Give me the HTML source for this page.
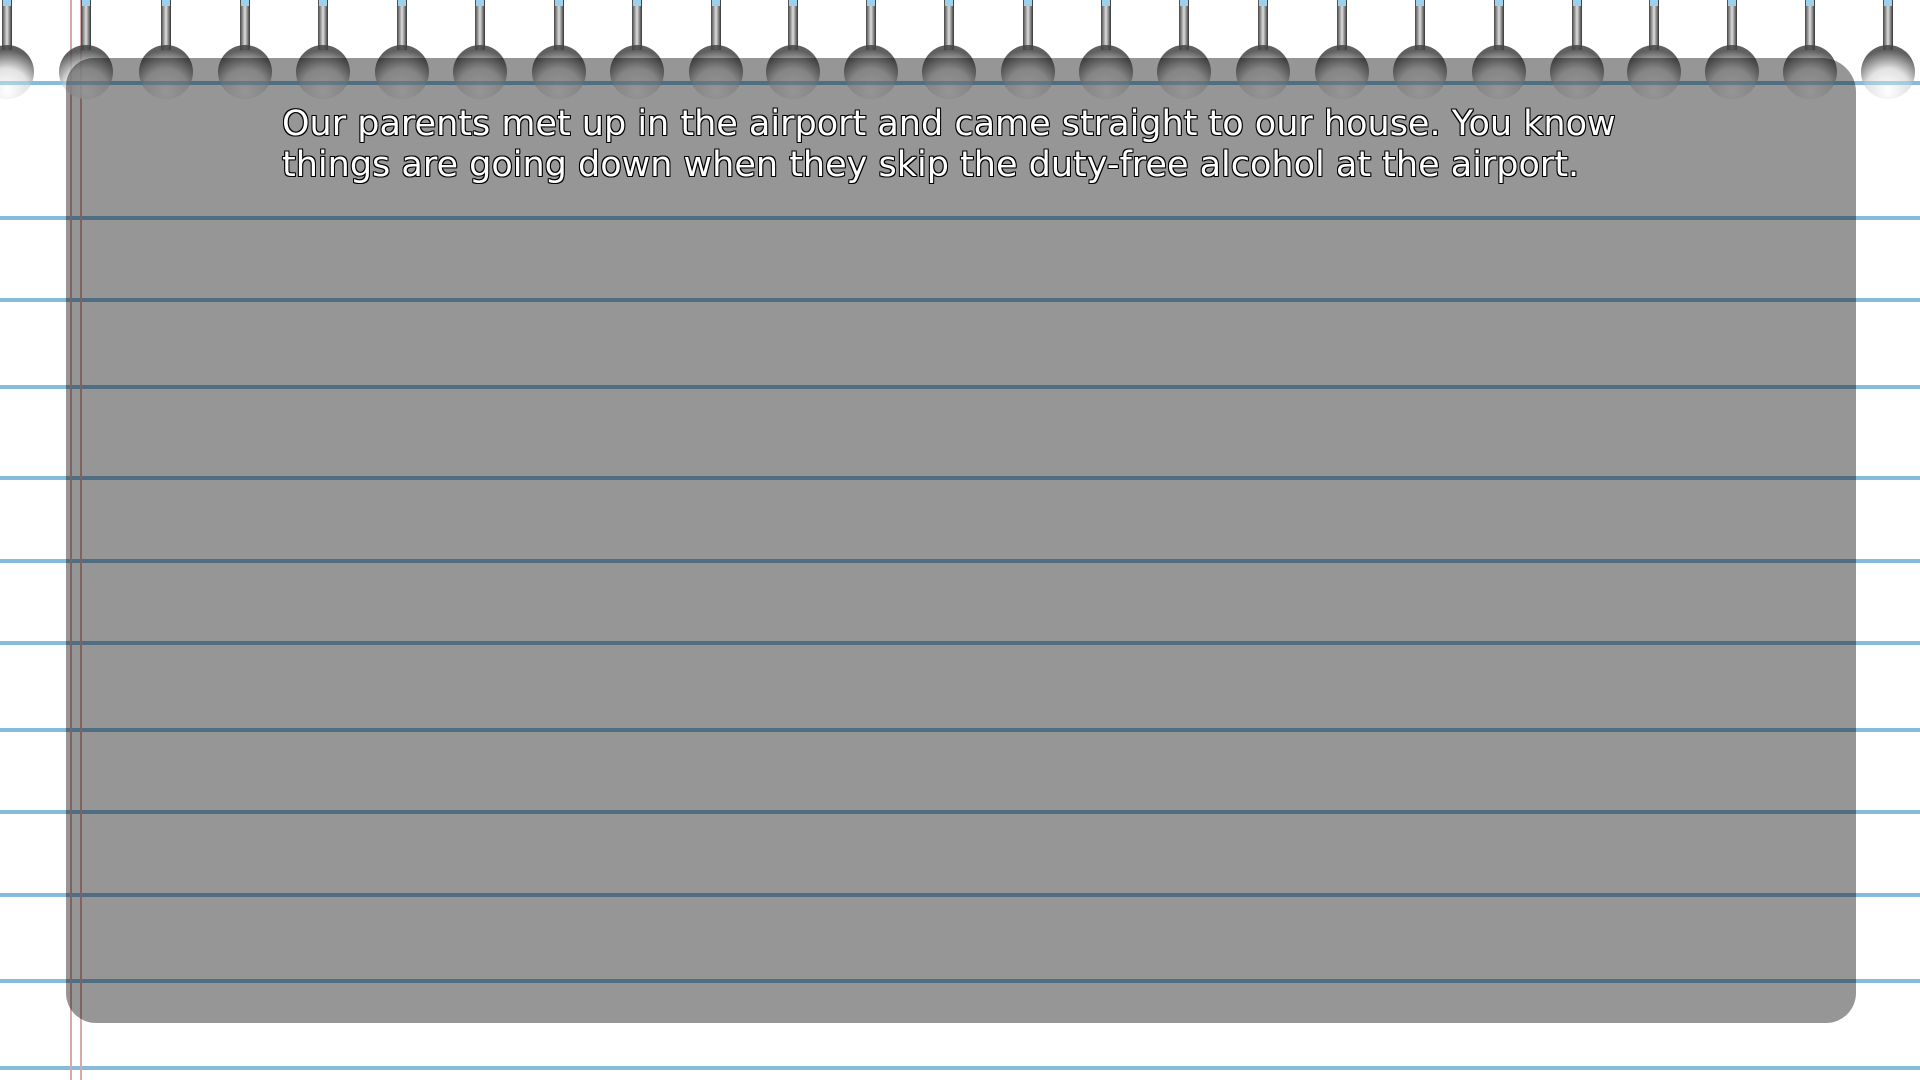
<!DOCTYPE html>
<html><head><meta charset="utf-8"><style>
html,body{margin:0;padding:0;width:1920px;height:1080px;overflow:hidden;background:#fff;position:relative}
.hl{position:absolute;left:0;width:1920px;height:4px;background:#86bcdb}
.vl{position:absolute;top:0;height:1080px;width:2px;background:#d9a8a8}
.box{position:absolute;left:66px;top:58px;width:1790px;height:965px;background:rgba(0,0,0,0.41);border-radius:28px 34px 30px 30px}
.txt{position:absolute;left:282px;top:104px;font-family:"DejaVu Sans","Liberation Sans",sans-serif;font-size:35px;line-height:41px;color:#fff;white-space:nowrap;
text-shadow:-1px -1px 0 #000,1px -1px 0 #000,-1px 1px 0 #000,1px 1px 0 #000,0 1px 0 #000,0 -1px 0 #000,1px 0 0 #000,-1px 0 0 #000}
</style></head><body>
<div class="hl" style="top:81px"></div>
<div class="hl" style="top:216px"></div>
<div class="hl" style="top:298px"></div>
<div class="hl" style="top:385px"></div>
<div class="hl" style="top:476px"></div>
<div class="hl" style="top:559px"></div>
<div class="hl" style="top:641px"></div>
<div class="hl" style="top:728px"></div>
<div class="hl" style="top:810px"></div>
<div class="hl" style="top:893px"></div>
<div class="hl" style="top:979px"></div>
<div class="hl" style="top:1066px"></div>
<div class="vl" style="left:70px"></div>
<div class="vl" style="left:80px"></div>
<svg width="1920" height="110" style="position:absolute;left:0;top:0">
<defs>
<linearGradient id="st" x1="0" x2="1"><stop offset="0" stop-color="#444"/><stop offset=".5" stop-color="#ddd"/><stop offset="1" stop-color="#333"/></linearGradient>
<radialGradient id="bl" cx=".5" cy=".85" r=".75"><stop offset="0" stop-color="#fff"/><stop offset=".55" stop-color="#ddd"/><stop offset="1" stop-color="#444"/></radialGradient>
<g id="r"><rect x="-5" y="0" width="10" height="50" fill="url(#st)"/><circle cx="0" cy="72" r="27" fill="url(#bl)" opacity=".85"/><rect x="-4" y="0" width="8" height="6" fill="#9cd0ec"/></g>
</defs>
<use href="#r" x="7"/><use href="#r" x="86"/><use href="#r" x="166"/><use href="#r" x="245"/><use href="#r" x="323"/><use href="#r" x="402"/><use href="#r" x="480"/><use href="#r" x="559"/><use href="#r" x="637"/><use href="#r" x="716"/><use href="#r" x="793"/><use href="#r" x="871"/><use href="#r" x="949"/><use href="#r" x="1028"/><use href="#r" x="1106"/><use href="#r" x="1184"/><use href="#r" x="1263"/><use href="#r" x="1342"/><use href="#r" x="1420"/><use href="#r" x="1499"/><use href="#r" x="1577"/><use href="#r" x="1654"/><use href="#r" x="1732"/><use href="#r" x="1810"/><use href="#r" x="1888"/>
</svg>
<div class="hl" style="top:81px;opacity:.6"></div>
<div class="box"></div>
<div class="txt">Our parents met up in the airport and came straight to our house. You know<br>things are going down when they skip the duty-free alcohol at the airport.</div>
</body></html>
